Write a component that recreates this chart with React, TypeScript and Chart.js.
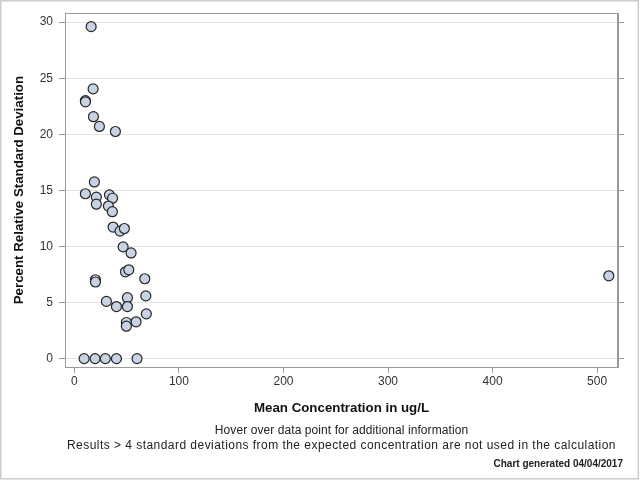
import React, { useEffect, useRef } from 'react';
import { Chart, registerables } from 'chart.js';

Chart.register(...registerables);

// Mean concentration (ug/L) and %RSD
const meanConcentration = [
  16.0, 17.9, 10.5, 10.6, 18.2, 23.9, 39.2,
  19.1, 10.5, 21.0, 33.5, 36.5, 21.0, 32.5, 36.3,
  37.0, 43.7, 47.8, 46.6, 54.2, 48.8, 52.0,
  20.1, 20.1, 67.3, 68.3, 30.6, 40.2, 50.7, 50.7,
  68.8, 59.0, 49.7, 49.7,
  9.3, 19.8, 29.6, 40.2, 59.9,
  511.2,
];
const percentRsd = [
  29.6, 24.05, 23.0, 22.9, 21.57, 20.7, 20.25,
  15.75, 14.7, 14.4, 14.6, 14.3, 13.77, 13.6, 13.1,
  11.73, 11.37, 11.6, 9.96, 9.42, 7.74, 7.92,
  7.03, 6.83, 7.12, 5.59, 5.1, 4.64, 5.43, 4.64,
  3.99, 3.28, 3.22, 2.89,
  0, 0, 0, 0, 0,
  7.38,
];

const xTickValues = [0, 100, 200, 300, 400, 500];
const yTickValues = [0, 5, 10, 15, 20, 25, 30];

const xTitle = 'Mean Concentration in ug/L';
const yTitle = 'Percent Relative Standard Deviation';
const hoverNote = 'Hover over data point for additional information';
const resultsNote =
  'Results > 4 standard deviations from the expected concentration are not used in the calculation';
const generatedNote = 'Chart generated 04/04/2017';

const FONT = "'Liberation Sans', Arial, sans-serif";
const AXIS_GRAY = '#9a9a9a';

// frame round the plot area and round the whole picture
const framePlugin = {
  id: 'frames',
  afterDraw(chart: any) {
    const { ctx, chartArea } = chart;
    ctx.save();
    ctx.strokeStyle = AXIS_GRAY;
    ctx.lineWidth = 1;
    ctx.strokeRect(
      Math.round(chartArea.left) + 0.5,
      Math.round(chartArea.top) + 0.5,
      Math.round(chartArea.right - chartArea.left) - 1,
      Math.round(chartArea.bottom - chartArea.top)
    );
    ctx.strokeStyle = '#cccccc';
    ctx.lineWidth = 1.5;
    ctx.strokeRect(0.75, 0.75, 637.5, 478);
    ctx.restore();
  },
};

const App: React.FC = () => {
  const canvasRef = useRef<HTMLCanvasElement>(null);
  const chartRef = useRef<Chart | null>(null);

  useEffect(() => {
    if (!canvasRef.current) return;
    if (chartRef.current) chartRef.current.destroy();

    const points = meanConcentration.map((x, i) => ({ x, y: percentRsd[i] }));

    chartRef.current = new Chart(canvasRef.current, {
      type: 'scatter',
      data: {
        datasets: [
          {
            label: '%RSD',
            data: points,
            pointRadius: 5,
            pointHoverRadius: 5,
            pointBorderWidth: 1.2,
            pointBackgroundColor: '#c7d3e4',
            pointBorderColor: '#262626',
          },
        ],
      },
      options: {
        responsive: false,
        animation: false,
        layout: { padding: { top: 11, left: 0, right: 0, bottom: 60 } },
        plugins: {
          legend: { display: false },
          tooltip: { enabled: true },
        },
        scales: {
          x: {
            type: 'linear',
            position: 'bottom',
            min: -9,
            max: 520,
            afterBuildTicks: (scale: any) => {
              scale.ticks = xTickValues.map((v) => ({ value: v }));
            },
            afterFit: (scale: any) => {
              scale.height = 53;
            },
            ticks: {
              color: '#333333',
              padding: 1,
              maxRotation: 0,
              font: { family: FONT, size: 12 },
            },
            grid: {
              drawOnChartArea: false,
              tickLength: 6,
              tickColor: AXIS_GRAY,
            },
            border: { color: AXIS_GRAY },
            title: {
              display: true,
              text: xTitle,
              color: '#111111',
              padding: { top: 0, bottom: 4 },
              font: { family: FONT, size: 13.3, weight: 'bold' },
            },
          },
          y: {
            type: 'linear',
            position: 'left',
            min: -0.75,
            max: 30.8,
            afterBuildTicks: (scale: any) => {
              scale.ticks = yTickValues.map((v) => ({ value: v }));
            },
            afterFit: (scale: any) => {
              scale.width = 65;
            },
            ticks: {
              color: '#333333',
              padding: 6,
              font: { family: FONT, size: 12 },
            },
            grid: {
              color: '#e3e3e3',
              tickLength: 6,
              tickColor: AXIS_GRAY,
            },
            border: { color: AXIS_GRAY },
            title: {
              display: true,
              text: yTitle,
              color: '#111111',
              padding: { top: 11, bottom: 0 },
              font: { family: FONT, size: 13.3, weight: 'bold' },
            },
          },
          y2: {
            type: 'linear',
            position: 'right',
            min: -0.75,
            max: 30.8,
            afterBuildTicks: (scale: any) => {
              scale.ticks = yTickValues.map((v) => ({ value: v }));
            },
            afterFit: (scale: any) => {
              scale.width = 22;
            },
            ticks: { display: false },
            grid: {
              drawOnChartArea: false,
              tickLength: 6,
              tickColor: AXIS_GRAY,
            },
            border: { color: AXIS_GRAY },
          },
        },
      },
      plugins: [framePlugin],
    });

    return () => {
      if (chartRef.current) {
        chartRef.current.destroy();
        chartRef.current = null;
      }
    };
  }, []);

  const noteStyle: React.CSSProperties = {
    position: 'absolute',
    left: '65px',
    width: '553px',
    textAlign: 'center',
    fontSize: '12px',
    lineHeight: '15px',
    color: '#222222',
    whiteSpace: 'nowrap',
  };

  return (
    <div
      style={{
        position: 'absolute',
        left: 0,
        top: 0,
        width: '640px',
        height: '480px',
        background: '#ffffff',
        fontFamily: FONT,
      }}
    >
      <canvas ref={canvasRef} width={640} height={480} style={{ display: 'block' }} />
      <div style={{ ...noteStyle, top: '423px', letterSpacing: '0.08px' }}>{hoverNote}</div>
      <div style={{ ...noteStyle, top: '438px', letterSpacing: '0.46px' }}>{resultsNote}</div>
      <div
        style={{
          position: 'absolute',
          right: '17px',
          top: '458px',
          fontSize: '10px',
          lineHeight: '12px',
          fontWeight: 'bold',
          color: '#222222',
          whiteSpace: 'nowrap',
        }}
      >
        {generatedNote}
      </div>
    </div>
  );
};

export default App;
